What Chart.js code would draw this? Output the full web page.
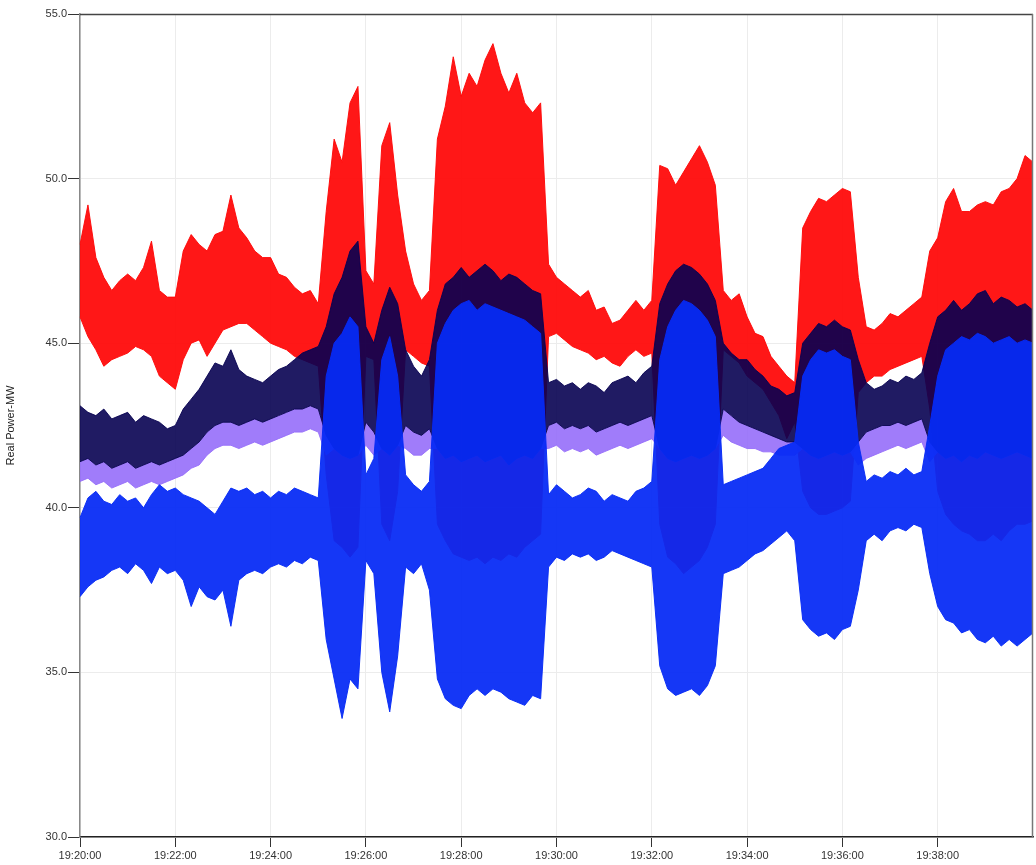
<!DOCTYPE html>
<html>
<head>
<meta charset="utf-8">
<script src="https://cdn.jsdelivr.net/npm/chart.js@4.4.1/dist/chart.umd.min.js"></script>
<style>
  html, body { margin: 0; padding: 0; background: #fff; }
  #wrap { width: 1036px; height: 865px; }
</style>
</head>
<body>
<div id="wrap"><canvas id="chart" width="1036" height="865"></canvas></div>
<script>
// samples every 10 s from 19:20:00 to 19:40:00 (121 points), values in MW
// each trace is kept as its visible envelope (upper / lower edge)
const tickLabels = ['19:20:00', '19:22:00', '19:24:00', '19:26:00', '19:28:00',
                    '19:30:00', '19:32:00', '19:34:00', '19:36:00', '19:38:00'];
const yTicks = [30, 35, 40, 45, 50, 55];

const redHigh = [
  48.0, 49.2, 47.6, 47.0, 46.6, 46.9, 47.1, 46.9, 47.3, 48.1, 46.6, 46.4,
  46.4, 47.8, 48.3, 48.0, 47.8, 48.3, 48.4, 49.5, 48.5, 48.2, 47.8, 47.6,
  47.6, 47.1, 47.0, 46.7, 46.5, 46.6, 46.2, 49.0, 51.2, 50.5, 52.3, 52.8,
  47.2, 46.8, 51.0, 51.7, 49.5, 47.8, 46.8, 46.3, 46.6, 51.2, 52.2, 53.7,
  52.5, 53.2, 52.8, 53.6, 54.1, 53.2, 52.6, 53.2, 52.3, 52.0, 52.3, 47.4,
  47.0, 46.8, 46.6, 46.4, 46.6, 46.0, 46.1, 45.6, 45.7, 46.0, 46.3, 46.0,
  46.3, 50.4, 50.3, 49.8, 50.2, 50.6, 51.0, 50.5, 49.8, 46.6, 46.3, 46.5,
  45.8, 45.3, 45.2, 44.6, 44.3, 44.0, 43.8, 48.5, 49.0, 49.4, 49.3, 49.5,
  49.7, 49.6, 47.0, 45.5, 45.4, 45.6, 45.9, 45.8, 46.0, 46.2, 46.4, 47.8,
  48.2, 49.3, 49.7, 49.0, 49.0, 49.2, 49.3, 49.2, 49.6, 49.7, 50.0, 50.7,
  50.5
];
const redLow = [
  45.8, 45.2, 44.8, 44.3, 44.5, 44.6, 44.7, 44.9, 44.8, 44.6, 44.0, 43.8,
  43.6, 44.5, 45.0, 45.1, 44.6, 45.0, 45.4, 45.5, 45.6, 45.6, 45.4, 45.2,
  45.0, 44.9, 44.8, 44.6, 44.5, 44.4, 44.3, 41.0, 39.0, 38.8, 38.5, 38.8,
  44.6, 44.5, 39.5, 39.0, 40.5, 44.8, 44.6, 44.4, 44.3, 39.5, 39.0, 38.6,
  38.5, 38.4, 38.5, 38.3, 38.5, 38.4, 38.6, 38.5, 38.8, 39.0, 39.2, 45.2,
  45.3, 45.1, 44.9, 44.8, 44.7, 44.5, 44.6, 44.4, 44.3, 44.6, 44.8, 44.6,
  44.7, 39.5, 38.5, 38.3, 38.0, 38.2, 38.4, 38.8, 39.5, 44.8, 44.6, 44.4,
  44.0, 43.8, 43.6, 43.2, 42.8, 42.1, 42.6, 40.5, 40.0, 39.8, 39.8, 39.9,
  40.0, 40.2, 43.5, 43.8, 44.0, 44.0, 44.2, 44.3, 44.4, 44.5, 44.6, 43.0,
  40.5, 39.8, 39.5, 39.3, 39.2, 39.0, 39.0, 39.2, 39.0, 39.3, 39.5, 39.5,
  39.6
];
const navyHigh = [
  43.1, 42.9, 42.8, 43.0, 42.7, 42.8, 42.9, 42.6, 42.8, 42.7, 42.6, 42.4,
  42.5, 43.0, 43.3, 43.6, 44.0, 44.4, 44.3, 44.8, 44.2, 44.0, 43.9, 43.8,
  44.0, 44.2, 44.3, 44.5, 44.7, 44.8, 44.9, 45.5, 46.5, 47.0, 47.8, 48.1,
  45.5, 45.0, 46.0, 46.7, 46.2, 44.8, 44.3, 44.0, 44.5, 46.0, 46.8, 47.0,
  47.3, 47.0, 47.2, 47.4, 47.2, 46.9, 47.1, 47.0, 46.8, 46.6, 46.5, 43.8,
  43.9, 43.7, 43.8, 43.6, 43.8, 43.7, 43.5, 43.8, 43.9, 44.0, 43.8, 44.1,
  44.3, 46.2, 46.8, 47.2, 47.4, 47.3, 47.1, 46.8, 46.3, 45.0, 44.7, 44.5,
  44.5, 44.2, 44.0, 43.7, 43.6, 43.4, 43.5, 45.0, 45.3, 45.6, 45.5, 45.7,
  45.5, 45.4, 44.5, 43.8, 43.6, 43.7, 43.9, 43.8, 44.0, 43.9, 44.1, 45.0,
  45.8, 46.0, 46.3, 46.0, 46.2, 46.5, 46.6, 46.2, 46.4, 46.3, 46.1, 46.2,
  46.0
];
const navyLow = [
  41.4, 41.5, 41.3, 41.4, 41.2, 41.3, 41.4, 41.2, 41.3, 41.4, 41.3, 41.4,
  41.5, 41.6, 41.8, 42.0, 42.3, 42.5, 42.6, 42.6, 42.5, 42.6, 42.7, 42.6,
  42.7, 42.8, 42.9, 43.0, 43.0, 43.1, 43.0, 42.2, 41.8, 41.6, 41.5, 41.6,
  42.6, 42.3, 41.8, 41.6, 41.9, 42.5, 42.3, 42.2, 42.4, 41.8, 41.5, 41.6,
  41.4, 41.5, 41.6, 41.4, 41.5, 41.6, 41.3, 41.5, 41.6, 41.5, 41.8, 42.5,
  42.6, 42.4, 42.5, 42.4, 42.5, 42.3, 42.4, 42.5, 42.6, 42.5, 42.6, 42.7,
  42.8, 41.8, 41.5, 41.4, 41.5, 41.6, 41.5, 41.6, 41.8, 43.0, 42.8, 42.6,
  42.5, 42.4, 42.3, 42.2, 42.1, 42.0, 42.0, 41.8, 41.6, 41.5, 41.6, 41.7,
  41.6, 41.7, 42.0, 42.3, 42.4, 42.5, 42.5, 42.6, 42.5, 42.6, 42.7, 42.0,
  41.7, 41.5, 41.6, 41.4, 41.6, 41.5, 41.7, 41.6, 41.5, 41.6, 41.7, 41.6,
  41.5
];
// lower edge of the light purple trace showing under the navy one
// (it disappears inside the bursts)
const purpleLow = [
  40.8, 40.9, 40.7, 40.8, 40.6, 40.7, 40.8, 40.6, 40.7, 40.8, 40.7, 40.8,
  40.9, 41.0, 41.2, 41.3, 41.6, 41.8, 41.9, 41.9, 41.8, 41.9, 42.0, 41.9,
  42.0, 42.1, 42.2, 42.3, 42.3, 42.4, 42.3, 41.6, 41.8, 41.6, 41.5, 41.6,
  41.9, 41.6, 41.8, 41.6, 41.9, 41.8, 41.6, 41.6, 41.8, 41.8, 41.5, 41.6,
  41.4, 41.5, 41.6, 41.4, 41.5, 41.6, 41.3, 41.5, 41.6, 41.5, 41.8, 41.8,
  41.9, 41.7, 41.8, 41.7, 41.8, 41.6, 41.7, 41.8, 41.9, 41.8, 41.9, 42.0,
  42.1, 41.8, 41.5, 41.4, 41.5, 41.6, 41.5, 41.6, 41.8, 42.2, 42.0, 41.9,
  41.8, 41.8, 41.7, 41.7, 41.6, 41.6, 41.6, 41.8, 41.6, 41.5, 41.6, 41.7,
  41.6, 41.7, 41.3, 41.5, 41.6, 41.7, 41.8, 41.9, 41.8, 41.9, 42.0, 41.4,
  41.7, 41.5, 41.6, 41.4, 41.6, 41.5, 41.7, 41.6, 41.5, 41.6, 41.7, 41.6,
  41.5
];
const blueHigh = [
  39.7, 40.3, 40.5, 40.2, 40.1, 40.4, 40.2, 40.3, 40.0, 40.4, 40.7, 40.5,
  40.6, 40.4, 40.3, 40.2, 40.0, 39.8, 40.2, 40.6, 40.5, 40.6, 40.4, 40.5,
  40.3, 40.5, 40.4, 40.6, 40.5, 40.4, 40.3, 44.0, 45.0, 45.3, 45.8, 45.5,
  41.0, 41.5, 44.5, 45.2, 44.0, 41.0, 40.7, 40.5, 40.8, 45.0, 45.6, 46.0,
  46.2, 46.3, 46.0, 46.2, 46.1, 46.0, 45.9, 45.8, 45.7, 45.5, 45.3, 40.4,
  40.7, 40.5, 40.3, 40.4, 40.6, 40.5, 40.2, 40.4, 40.3, 40.2, 40.5, 40.6,
  40.8, 44.5, 45.5, 46.0, 46.3, 46.2, 46.0, 45.7, 45.2, 40.7, 40.8, 40.9,
  41.0, 41.1, 41.2, 41.5, 41.8, 41.9, 42.0, 44.0, 44.5, 44.8, 44.7, 44.8,
  44.6, 44.5, 42.0, 40.8, 41.0, 40.9, 41.1, 41.0, 41.2, 41.0, 41.1, 42.5,
  44.0, 44.8, 45.0, 45.2, 45.1, 45.3, 45.2, 45.0, 45.1, 45.2, 45.0, 45.1,
  45.0
];
const blueLow = [
  37.3, 37.6, 37.8, 37.9, 38.1, 38.2, 38.0, 38.3, 38.1, 37.7, 38.2, 38.0,
  38.1, 37.8, 37.0, 37.6, 37.3, 37.2, 37.5, 36.4, 37.8, 38.0, 38.1, 38.0,
  38.2, 38.3, 38.2, 38.4, 38.3, 38.5, 38.4, 36.0, 34.8, 33.6, 34.8, 34.5,
  38.4, 38.0, 35.0, 33.8, 35.5, 38.2, 38.0, 38.3, 37.5, 34.8, 34.2, 34.0,
  33.9, 34.3, 34.5, 34.3, 34.5, 34.4, 34.2, 34.1, 34.0, 34.3, 34.2, 38.2,
  38.5, 38.4, 38.6, 38.5, 38.6, 38.4, 38.5, 38.7, 38.6, 38.5, 38.4, 38.3,
  38.2, 35.2, 34.5, 34.3, 34.4, 34.5, 34.3, 34.6, 35.2, 38.0, 38.1, 38.2,
  38.4, 38.6, 38.7, 38.9, 39.1, 39.3, 39.0, 36.6, 36.3, 36.1, 36.2, 36.0,
  36.3, 36.4, 37.5, 39.0, 39.2, 39.0, 39.3, 39.4, 39.3, 39.5, 39.4, 38.0,
  37.0, 36.6, 36.5, 36.2, 36.3, 36.0, 35.9, 36.1, 35.8, 36.0, 35.8, 36.0,
  36.2
];

// category labels, one per 10 s sample
const sampleTimes = [];
for (let i = 0; i < redHigh.length; i++) {
  const s = 20 * 60 + i * 10;
  const mm = String(Math.floor(s / 60)).padStart(2, '0');
  const ss = String(s % 60).padStart(2, '0');
  sampleTimes.push('19:' + mm + ':' + ss);
}

const tickFont = { family: "'Liberation Sans', Arial, sans-serif", size: 11 };

const band = (label, data, color, fill, order) => ({
  label, data, fill, order,
  backgroundColor: color,
  borderColor: color,
  borderWidth: 1,
  pointRadius: 0,
  tension: 0
});

// top and right border of the plot box
const framePlugin = {
  id: 'frame',
  afterDraw(chart) {
    const { ctx, chartArea: a } = chart;
    ctx.save();
    ctx.lineWidth = 1.5;
    ctx.strokeStyle = '#444';
    ctx.beginPath();
    ctx.moveTo(a.left, a.top + 0.5);
    ctx.lineTo(a.right, a.top + 0.5);
    ctx.stroke();
    ctx.strokeStyle = '#777';
    ctx.beginPath();
    ctx.moveTo(a.right - 0.5, a.top);
    ctx.lineTo(a.right - 0.5, a.bottom);
    ctx.stroke();
    ctx.restore();
  }
};

new Chart(document.getElementById('chart'), {
  type: 'line',
  data: {
    labels: sampleTimes,
    datasets: [
      band('Red high', redHigh, 'rgba(255,8,8,0.94)', '+1', 4),
      band('Red low', redLow, 'rgba(255,8,8,0.94)', false, 4),
      band('Purple', purpleLow, 'rgba(150,110,250,0.9)', { target: 4 }, 3),
      band('Navy high', navyHigh, 'rgba(8,2,82,0.9)', '+1', 2),
      band('Navy low', navyLow, 'rgba(8,2,82,0.9)', false, 2),
      band('Blue high', blueHigh, 'rgba(6,42,245,0.94)', '+1', 1),
      band('Blue low', blueLow, 'rgba(6,42,245,0.94)', false, 1)
    ]
  },
  options: {
    responsive: false,
    devicePixelRatio: 1,
    animation: false,
    layout: { padding: { top: 14, right: 3, left: 0, bottom: 0 } },
    plugins: {
      legend: { display: false },
      tooltip: { enabled: false }
    },
    scales: {
      x: {
        type: 'category',
        grid: { color: '#ececec', tickColor: '#333', tickLength: 10 },
        border: { color: '#222', width: 1.5 },
        ticks: {
          autoSkip: false,
          maxRotation: 0,
          padding: 2,
          color: '#333',
          font: tickFont,
          callback: (v, i) => (i % 12 === 0 && i < 120) ? tickLabels[i / 12] : null
        },
        afterFit: (s) => { s.height = 28; }
      },
      y: {
        min: yTicks[0],
        max: yTicks[yTicks.length - 1],
        afterBuildTicks: (s) => { s.ticks = yTicks.map(v => ({ value: v })); },
        grid: { color: '#ececec', tickColor: '#333', tickLength: 12 },
        border: { color: '#888', width: 1.5 },
        ticks: {
          padding: 1,
          color: '#333',
          font: tickFont,
          callback: (v) => Number(v).toFixed(1)
        },
        title: {
          display: true,
          text: 'Real Power-MW',
          color: '#222',
          font: { family: "'Liberation Sans', Arial, sans-serif", size: 11 },
          padding: { top: 4, bottom: 0 }
        },
        afterFit: (s) => { s.width = 80; }
      }
    }
  },
  plugins: [framePlugin]
});
</script>
</body>
</html>
